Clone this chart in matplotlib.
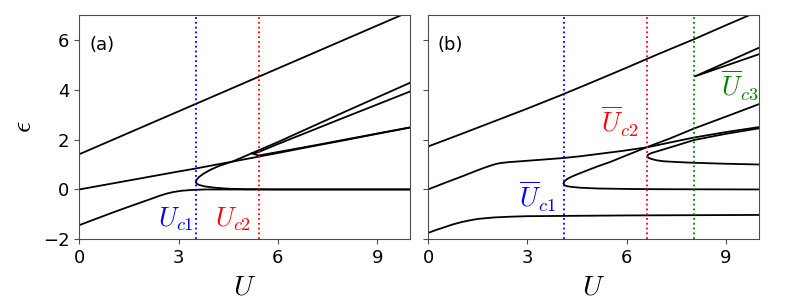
import matplotlib
matplotlib.use("Agg")
import matplotlib.pyplot as plt

plt.rcParams['mathtext.fontset'] = 'cm'

# ---- panel (a) ----
a_top_U = [0, 10]
a_top_E = [1.41, 7.14]
a_low_U = [0, 0.5, 1, 1.5, 1.8, 2.1, 2.35, 2.6, 2.85, 3.1, 3.4, 3.8, 10]
a_low_E = [-1.43, -1.18, -0.93, -0.69, -0.55, -0.41, -0.29, -0.18, -0.1, -0.05, -0.02, 0.0, 0.0]
a_mid_U = [0, 1, 2, 3, 3.52, 4, 5, 6, 7, 8, 9, 10]
a_mid_E = [0, 0.24, 0.48, 0.72, 0.84, 0.96, 1.21, 1.46, 1.72, 1.97, 2.23, 2.48]
a_fold1_U = [10, 6, 5, 4.5, 4.1, 3.8, 3.62, 3.55, 3.52, 3.55, 3.62, 3.75, 3.95, 4.2, 4.65, 5.0, 5.42, 6, 7, 8, 9, 10]
a_fold1_E = [0, 0, 0.01, 0.03, 0.07, 0.12, 0.18, 0.23, 0.3, 0.4, 0.5, 0.63, 0.78, 0.93, 1.13, 1.33, 1.57, 1.9, 2.5, 3.1, 3.69, 4.28]
a_fold2_U = [10, 8, 6, 5.42, 5.3, 5.2, 5.3, 5.42, 6, 7, 8, 10]
a_fold2_E = [3.93, 2.88, 1.82, 1.5, 1.46, 1.45, 1.41, 1.36, 1.5, 1.74, 1.99, 2.49]
a_crit = [3.52, 5.42]

# ---- panel (b) ----
b_top_U = [0, 1, 2, 3, 4, 5, 6, 7, 8, 9, 10]
b_top_E = [1.72, 2.22, 2.73, 3.24, 3.77, 4.32, 4.88, 5.45, 6.0, 6.58, 7.15]
b_low_U = [0, 0.25, 0.5, 0.75, 1.0, 1.25, 1.5, 1.75, 2, 2.5, 3, 4, 6, 8, 10]
b_low_E = [-1.74, -1.62, -1.51, -1.4, -1.31, -1.24, -1.18, -1.15, -1.12, -1.09, -1.07, -1.06, -1.04, -1.03, -1.02]
b_mid_U = [0, 0.5, 1, 1.5, 1.7, 1.9, 2.05, 2.2, 2.4, 2.7, 3.0, 3.5, 4.09, 4.6, 5.13, 5.9, 6.62, 7.3, 8.03, 9, 10]
b_mid_E = [0, 0.26, 0.51, 0.77, 0.87, 0.96, 1.02, 1.06, 1.09, 1.12, 1.15, 1.2, 1.26, 1.33, 1.42, 1.55, 1.69, 1.88, 2.08, 2.3, 2.5]
b_fold1_U = [10, 7, 6, 5.1, 4.6, 4.35, 4.2, 4.12, 4.09, 4.12, 4.2, 4.35, 4.53, 4.8, 5.13, 5.5, 6.0, 6.62, 7.3, 8.03, 9, 10]
b_fold1_E = [0, 0.01, 0.02, 0.04, 0.07, 0.1, 0.13, 0.17, 0.24, 0.33, 0.42, 0.52, 0.62, 0.76, 0.93, 1.1, 1.37, 1.7, 2.04, 2.44, 2.92, 3.42]
b_fold2_U = [10, 9, 8, 7.5, 7.1, 6.9, 6.75, 6.65, 6.62, 6.65, 6.75, 6.9, 7.1, 7.5, 8.03, 9, 10]
b_fold2_E = [1.0, 1.03, 1.07, 1.1, 1.13, 1.17, 1.22, 1.27, 1.33, 1.4, 1.46, 1.52, 1.6, 1.76, 1.98, 2.23, 2.45]
b_fold3_U = [10, 8.06, 10]
b_fold3_E = [5.42, 4.53, 5.68]
b_crit = [4.1, 6.62, 8.03]

fig = plt.figure(figsize=(8, 3), dpi=100)
ax1 = fig.add_axes([0.099, 0.202, 0.414, 0.749])
ax2 = fig.add_axes([0.535, 0.202, 0.414, 0.749], sharey=ax1)

lw = 1.3
for U, E in [(a_top_U, a_top_E), (a_low_U, a_low_E), (a_mid_U, a_mid_E),
             (a_fold1_U, a_fold1_E), (a_fold2_U, a_fold2_E)]:
    ax1.plot(U, E, color="black", lw=lw)
for U, E in [(b_top_U, b_top_E), (b_low_U, b_low_E), (b_mid_U, b_mid_E),
             (b_fold1_U, b_fold1_E), (b_fold2_U, b_fold2_E), (b_fold3_U, b_fold3_E)]:
    ax2.plot(U, E, color="black", lw=lw)

for x, c in zip(a_crit, ["blue", "red"]):
    ax1.axvline(x, color=c, ls=":", lw=1.3)
for x, c in zip(b_crit, ["blue", "red", "green"]):
    ax2.axvline(x, color=c, ls=":", lw=1.3)

ax1.text(3.45, -1.5, r"$U_{c1}$", color="blue", fontsize=19, ha="right", va="baseline")
ax1.text(5.2, -1.5, r"$U_{c2}$", color="red", fontsize=19, ha="right", va="baseline")
ax2.text(3.87, -0.72, r"$\overline{U}_{c1}$", color="blue", fontsize=19, ha="right", va="baseline")
ax2.text(6.35, 2.3, r"$\overline{U}_{c2}$", color="red", fontsize=19, ha="right", va="baseline")
ax2.text(9.97, 3.75, r"$\overline{U}_{c3}$", color="green", fontsize=19, ha="right", va="baseline")

ax1.text(0.03, 0.865, "(a)", transform=ax1.transAxes, fontsize=13, va="center")
ax2.text(0.03, 0.865, "(b)", transform=ax2.transAxes, fontsize=13, va="center")

for ax in (ax1, ax2):
    ax.set_xlim(0, 10)
    ax.set_ylim(-2, 7)
    ax.set_xticks([0, 3, 6, 9])
    ax.set_yticks([-2, 0, 2, 4, 6])
    ax.tick_params(labelsize=13, color="0.3")
    for s in ax.spines.values():
        s.set_color("0.3")
    ax.set_xlabel(r"$U$", fontsize=20)
ax2.tick_params(labelleft=False)
ax1.set_ylabel(r"$\epsilon$", fontsize=20)

fig.savefig("out.png", dpi=100)
